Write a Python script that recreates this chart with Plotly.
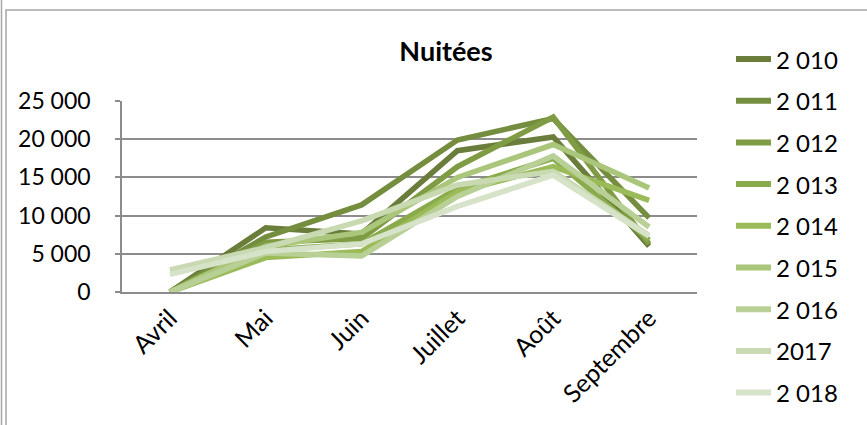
import plotly.graph_objects as go

months = ["Avril", "Mai", "Juin", "Juillet", "Août", "Septembre"]
years = ["2 010", "2 011", "2 012", "2 013", "2 014", "2 015", "2 016", "2017", "2 018"]

s2010 = [0, 8400, 7600, 18500, 20300, 6000]
s2011 = [0, 7200, 11400, 19900, 22700, 9700]
s2012 = [0, 6500, 7000, 16400, 22900, 6300]
s2013 = [0, 5500, 6300, 13500, 17500, 6800]
s2014 = [0, 4500, 5300, 13100, 16400, 12000]
s2015 = [0, 6000, 7800, 15000, 19300, 13600]
s2016 = [0, 5100, 4700, 12500, 17800, 8500]
s2017 = [2900, 5800, 9300, 14000, 15800, 7400]
s2018 = [2300, 5300, 6300, 11200, 15300, 7300]

series = [s2010, s2011, s2012, s2013, s2014, s2015, s2016, s2017, s2018]
colors = ["#6a7d3a", "#748d3e", "#7f9c45", "#8aab4c", "#9bbb59",
          "#a9c67a", "#b8d096", "#c9dab2", "#d7e3c9"]

ytick_vals = [0, 5000, 10000, 15000, 20000, 25000]
ytick_text = ["0", "5 000", "10 000", "15 000", "20 000", "25 000"]

FONT = "Lato"

fig = go.Figure()
for name, vals, col in zip(years, series, colors):
    fig.add_trace(go.Scatter(
        x=months, y=vals, mode="lines", name=name,
        line=dict(color=col, width=5.5),
    ))

# plot area: x 122..697, y 101..292 in pixels
L, R, T, B = 122, 697, 101, 292
W, H = 867, 425

def px(x):
    return (x - L) / (R - L)

def py(y):
    return (B - y) / (B - T)

shapes = [
    dict(type="rect", xref="paper", yref="paper",
         x0=px(6), x1=px(870), y0=py(430), y1=py(10),
         line=dict(color="#a6a6a6", width=1.5), layer="below"),
    dict(type="line", xref="paper", yref="paper",
         x0=px(1.5), x1=px(1.5), y0=py(430), y1=py(0),
         line=dict(color="#a6a6a6", width=1.5), layer="below"),
]
annotations = []

# legend drawn as keys on the right
leg_y0, leg_dy = 59, 41.7
for i, (name, col) in enumerate(zip(years, colors)):
    yy = leg_y0 + i * leg_dy
    shapes.append(dict(type="line", xref="paper", yref="paper",
                       x0=px(736), x1=px(771), y0=py(yy), y1=py(yy),
                       line=dict(color=col, width=6)))
    annotations.append(dict(text=name, xref="paper", yref="paper",
                            x=px(774), y=py(yy), xanchor="left", yanchor="middle",
                            showarrow=False, font=dict(family=FONT, size=24, color="#000")))

fig.update_layout(
    width=W, height=H,
    margin=dict(l=L, r=W - R, t=T, b=H - B, pad=0, autoexpand=False),
    paper_bgcolor="white", plot_bgcolor="white",
    font=dict(family=FONT, size=23, color="#000000"),
    title=dict(text="<b>Nuitées</b>", x=px(446), xref="paper", xanchor="center",
               y=1 - 52 / H, yanchor="middle", font=dict(family=FONT, size=27, color="#000")),
    showlegend=False,
    xaxis=dict(
        type="category", showgrid=False, showline=True, linecolor="#8c8c8c", linewidth=1.5,
        ticks="", tickangle=-45, tickfont=dict(family=FONT, size=25, color="#000"),
        range=[-0.5, 5.5], fixedrange=True, automargin=False,
    ),
    yaxis=dict(
        range=[0, 25000], tickvals=ytick_vals, ticktext=ytick_text,
        showgrid=True, gridcolor="#8c8c8c", gridwidth=1.5,
        showline=True, linecolor="#8c8c8c", linewidth=1.5,
        ticks="outside", ticklen=5, tickcolor="#8c8c8c", tickwidth=1.5,
        ticklabelstandoff=20,
        tickfont=dict(family=FONT, size=23, color="#000"),
        zeroline=False, fixedrange=True, automargin=False,
    ),
    shapes=shapes,
    annotations=annotations,
)

fig.write_html("out.html", config={"displayModeBar": False},
               post_script="document.body.style.margin='0';document.body.style.overflow='hidden';")
